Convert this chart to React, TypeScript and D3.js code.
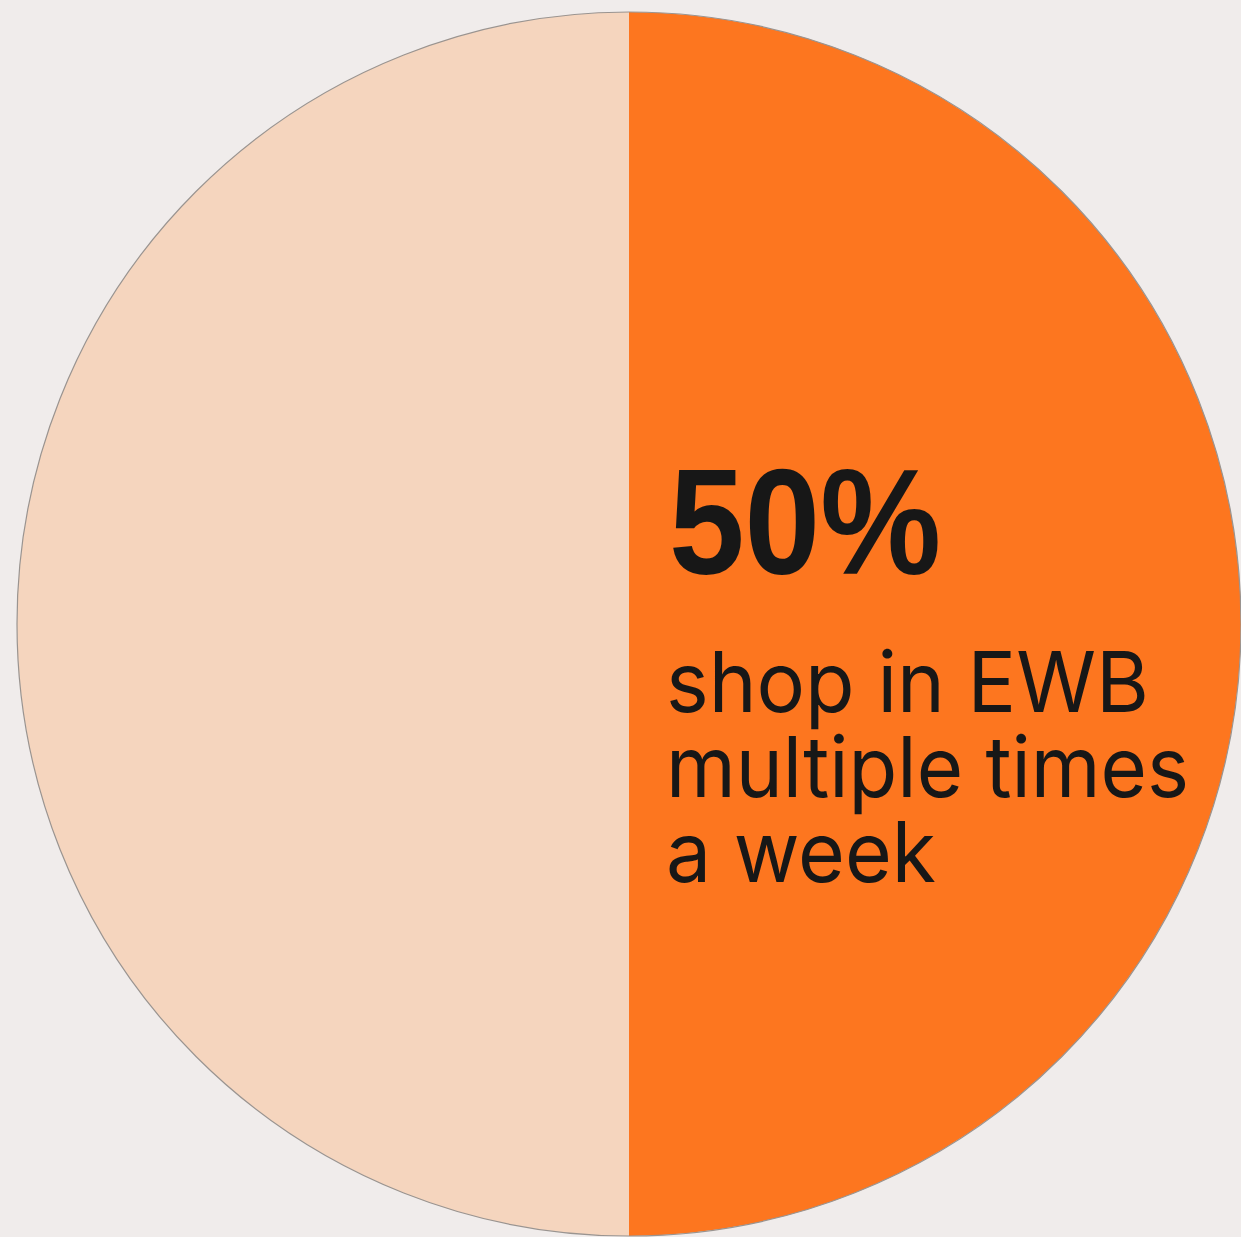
import React, { useEffect, useRef } from 'react';
import * as d3 from 'd3';

// two halves of the pie
const categories = ['other', 'multiple times a week'];
const shares = [50, 50];
const sliceColors = ['#F5D5BE', '#FD761F'];
const headline = '50%';
const captionLines = ['shop in EWB', 'multiple times', 'a week'];
const captionWidths = [483, 523, 270];

const W = 1241;
const H = 1237;

export default function App() {
  const svgRef = useRef<SVGSVGElement>(null);

  useEffect(() => {
    document.body.style.margin = '0';
    if (!svgRef.current) return;
    const svg = d3.select(svgRef.current);
    svg.selectAll('*').remove();

    const cx = 629;
    const cy = 624;
    const r = 612;

    svg.append('rect').attr('width', W).attr('height', H).attr('fill', '#F0ECEB');

    const g = svg.append('g').attr('transform', `translate(${cx},${cy})`);

    const pie = d3.pie<number>().sort(null).startAngle(Math.PI * 2).endAngle(0);
    const arc = d3.arc<d3.PieArcDatum<number>>().innerRadius(0).outerRadius(r);

    g.selectAll('path.slice')
      .data(pie(shares))
      .enter()
      .append('path')
      .attr('class', 'slice')
      .attr('d', arc)
      .attr('fill', (_, i) => sliceColors[i])
      .append('title')
      .text((d, i) => `${categories[i]}: ${d.data}%`);

    // thin grey outline
    g.append('circle')
      .attr('r', r)
      .attr('fill', 'none')
      .attr('stroke', '#9a9490')
      .attr('stroke-width', 1.2);

    const tx = 666;
    svg.append('text')
      .attr('x', tx + 3)
      .attr('y', 574)
      .attr('font-family', '"Liberation Sans", Arial, sans-serif')
      .attr('font-weight', 700)
      .attr('font-size', 150)
      .attr('textLength', 272)
      .attr('lengthAdjust', 'spacingAndGlyphs')
      .attr('fill', '#171717')
      .text(headline);

    svg.append('g')
      .selectAll('text')
      .data(captionLines)
      .enter()
      .append('text')
      .attr('x', tx)
      .attr('y', (_, i) => 712 + i * 85)
      .attr('font-family', 'Inter, "Liberation Sans", sans-serif')
      .attr('font-weight', 400)
      .attr('font-size', 84)
      .attr('textLength', (_, i) => captionWidths[i])
      .attr('lengthAdjust', 'spacingAndGlyphs')
      .attr('fill', '#171717')
      .text(d => d);
  }, []);

  return (
    <div style={{ width: W, height: H, overflow: 'hidden' }}>
      <svg ref={svgRef} width={W} height={H} style={{ display: 'block' }} />
    </div>
  );
}
